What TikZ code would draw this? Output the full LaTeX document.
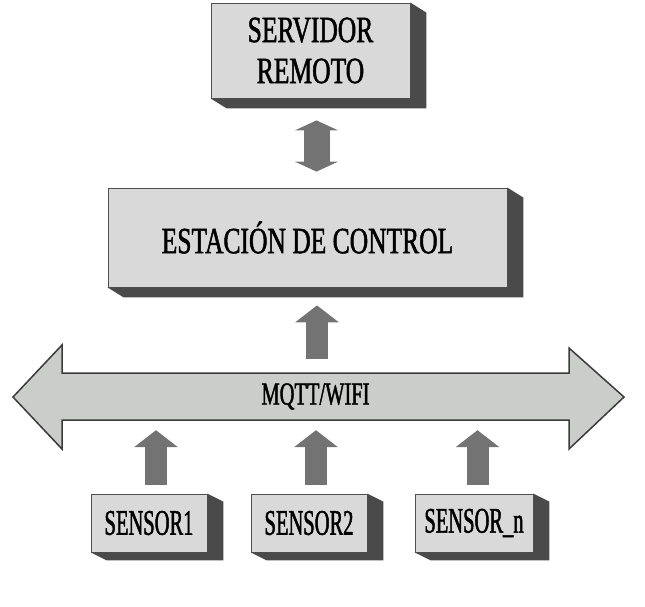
\documentclass[tikz,border=0pt]{standalone}
\usepackage{fontspec}
\setmainfont[FakeStretch=0.69,FakeBold=1.3]{Liberation Serif}
\newfontfamily\sensfont[FakeStretch=0.57,FakeBold=1.3]{Liberation Serif}
\newfontfamily\busfont[FakeStretch=0.64,FakeBold=1.3]{Liberation Serif}
\usetikzlibrary{arrows.meta,calc}
\definecolor{facegray}{HTML}{D9D9D9}
\definecolor{edgegray}{HTML}{505050}
\definecolor{shadegray}{HTML}{4A4A4A}
\definecolor{arrowgray}{HTML}{737373}
\definecolor{busfill}{HTML}{CBCDCB}
\definecolor{busedge}{HTML}{3A3A3A}
\tikzset{
  box/.style={draw=edgegray, line width=0.8pt, fill=facegray, inner sep=0pt, align=center,
    font=\fontsize{37}{42}\selectfont},
  sensbox/.style={box, minimum width=116pt, minimum height=58pt, font=\sensfont\fontsize{36}{40}\selectfont},
  blk/.style={draw=arrowgray, line width=22pt, -{Triangle[length=17pt,width=43pt]}},
  dblk/.style={draw=arrowgray, line width=26pt, {Triangle[length=10pt,width=43pt]}-{Triangle[length=10pt,width=43pt]}},
  shade/.style={fill=shadegray, draw=none}
}
\newcommand{\boxshade}[3]{%
  \fill[shade] (#1.north east) -- ($(#1.north east)+(#2,#3)$) -- ($(#1.south east)+(#2,#3)$)
    -- ($(#1.south west)+(#2,#3)$) -- (#1.south west) -- (#1.south east) -- cycle;}
\begin{document}
\begin{tikzpicture}[x=1pt,y=-1pt]
\useasboundingbox (0,0) rectangle (645,606);
% boxes
\node[box, minimum width=199pt, minimum height=95pt] (srv) at (310.5,50.5) {SERVIDOR\\[-1pt]REMOTO};
\boxshade{srv}{16}{10}
\node[box, minimum width=399pt, minimum height=99pt] (ctl) at (307.5,237.5) {ESTACIÓN DE CONTROL};
\boxshade{ctl}{16}{10}
\node[sensbox] (s1) at (149,523) {SENSOR1};
\boxshade{s1}{16}{8}
\node[sensbox] (s2) at (309,523) {SENSOR2};
\boxshade{s2}{16}{8}
\node[sensbox, minimum width=118pt] (sn) at (474,523) {SENSOR\_n};
\boxshade{sn}{16}{8}
% bus
\node[minimum width=507pt, minimum height=47pt, inner sep=0pt] (bus) at (315.5,396.5) {};
\filldraw[fill=busfill, draw=busedge, line width=1.5pt, line join=miter]
  (13,397) -- (62,345) -- (62,373) -- (569,373) -- (569,348) -- (624,397)
  -- (569,449) -- (569,420) -- (62,420) -- (62,449) -- cycle;
\node[font=\busfont\fontsize{32}{36}\selectfont] (bustext) at (bus.center) {MQTT/WIFI};
% arrows
\draw[dblk] ($(srv.south)+(6,22)$) -- ($(ctl.north)+(9,-16)$);
\draw[blk] ($(bus.north)+(1.5,-14)$) -- ($(ctl.south)+(9.5,18)$);
\draw[blk] ($(s1.north)+(7,-9)$) -- ($(s1.north |- bus.south)+(7,10)$);
\draw[blk] ($(s2.north)+(7,-9)$) -- ($(s2.north |- bus.south)+(7,10)$);
\draw[blk] ($(sn.north)+(3.5,-9)$) -- ($(sn.north |- bus.south)+(3.5,10)$);
\end{tikzpicture}
\end{document}
